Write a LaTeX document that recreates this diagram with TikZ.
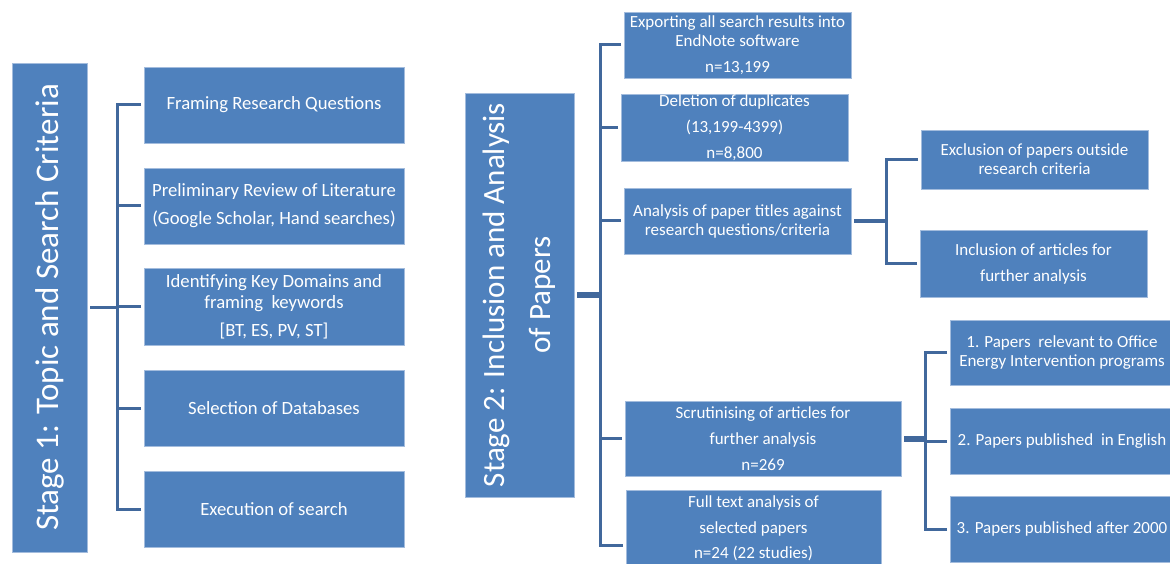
\documentclass[tikz,border=0pt]{standalone}
\usepackage{fontspec}
\setmainfont{Carlito}
\usetikzlibrary{positioning}
\definecolor{boxblue}{HTML}{4F81BD}
\definecolor{linkblue}{HTML}{41689C}
\definecolor{edgeblue}{HTML}{A3BCDD}
\tikzset{
    box/.style={draw=edgeblue, line width=0.8pt, fill=boxblue, text=white, align=center,
        inner sep=0pt, outer xsep=3pt, font=\fontsize{17}{19}\selectfont}, % white text on blue
    bigbox/.style={box, font=\fontsize{18.7}{21}\selectfont}, % stage 1 steps
    stagebox/.style={box, outer xsep=0pt, outer ysep=3pt, rotate=90,
        font=\fontsize{31}{46}\selectfont}, % the two tall stage labels
    link/.style={draw=linkblue, line width=3pt}, % bracket lines
    trunk/.style={link, line width=6pt}, % the thick stems
}

\begin{document}
\begin{tikzpicture}[x=1pt, y=-1pt]
\useasboundingbox (0,0) rectangle (1170,564);

% stage 1
\node[stagebox, font=\fontsize{33}{46}\selectfont, minimum width=489pt, minimum height=75pt]
    (stageone) at (49.5,307.5) {Stage 1: Topic and Search Criteria};
\node[bigbox, minimum width=260pt, minimum height=76pt] (frame) at (274,105)
    {Framing Research Questions};
\node[bigbox, minimum width=260pt, minimum height=76pt] (review) at (274,206)
    {Preliminary Review of Literature\\[7pt](Google Scholar, Hand searches)};
\node[bigbox, minimum width=260pt, minimum height=77pt] (domains) at (274,306.5)
    {Identifying Key Domains and\\framing~~keywords\\[7pt]{[}BT, ES, PV, ST]};
\node[bigbox, minimum width=260pt, minimum height=76pt] (databases) at (274,408)
    {Selection of Databases};
\node[bigbox, minimum width=260pt, minimum height=76pt] (execute) at (274,509)
    {Execution of search};

\coordinate (j1) at (117,307.5);
\draw[link] (stageone.south) -- (j1);
\draw[link] (frame.west) -| (j1);
\draw[link] (execute.west) -| (j1);
\draw[link] (review.west) -- (review.west -| j1);
\draw[link] (domains.west) -- (domains.west -| j1);
\draw[link] (databases.west) -- (databases.west -| j1);

% stage 2
\node[stagebox, minimum width=404pt, minimum height=109pt] (stagetwo) at (519.5,295)
    {Stage 2: Inclusion and Analysis\\of Papers};
\node[box, minimum width=227pt, minimum height=66pt] (export) at (737.5,45)
    {Exporting all search results into\\EndNote software\\[7pt]n=13,199};
\node[box, minimum width=227pt, minimum height=67pt] (dupes) at (734.5,127.5)
    {Deletion of duplicates\\[7pt](13,199-4399)\\[7pt]n=8,800};
\node[box, minimum width=227pt, minimum height=66pt] (titles) at (737.5,221)
    {Analysis of paper titles against\\research questions/criteria};
\node[box, minimum width=276pt, minimum height=75pt] (scrutiny) at (763,438.5)
    {Scrutinising of articles for\\[7pt]further analysis\\[7pt]n=269};
\node[box, minimum width=255pt, minimum height=76pt] (fulltext) at (753.5,528)
    {Full text analysis of\\[7pt]selected papers\\[6pt]n=24 (22 studies)};

\coordinate (j2) at (600,295);
\draw[trunk] (stagetwo.south) -- (j2);
\draw[link] (export.west) -| (j2);
\draw[link] ([yshift=-17pt]fulltext.west) -| (j2);
\draw[link] (dupes.west) -- (dupes.west -| j2);
\draw[link] (titles.west) -- (titles.west -| j2);
\draw[link] (scrutiny.west) -- (scrutiny.west -| j2);

% title screening
\node[box, minimum width=227pt, minimum height=59pt] (exclude) at (1034.5,159.5)
    {Exclusion of papers outside\\research criteria};
\node[box, minimum width=227pt, minimum height=67pt] (include) at (1033.5,263.5)
    {Inclusion of articles for\\[7pt]further analysis};

\coordinate (j3) at (886,221);
\draw[link, line width=4pt] (titles.east) -- (j3);
\draw[link] (exclude.west) -| (j3);
\draw[link] (include.west) -| (j3);

% scrutiny criteria
\node[box, minimum width=224pt, minimum height=65pt] (office) at (1062,352.5)
    {1. Papers~~relevant to Office\\Energy Intervention programs};
\node[box, minimum width=224pt, minimum height=66pt] (english) at (1062,441)
    {2. Papers published~~in English};
\node[box, minimum width=224pt, minimum height=66pt] (recent) at (1062,529)
    {3. Papers published after 2000};

\coordinate (j4) at (925,438.5);
\draw[trunk] (scrutiny.east) -- (j4);
\draw[link] (office.west) -| (j4);
\draw[link] (recent.west) -| (j4);
\draw[link] (english.west) -- (english.west -| j4);
\end{tikzpicture}
\end{document}
